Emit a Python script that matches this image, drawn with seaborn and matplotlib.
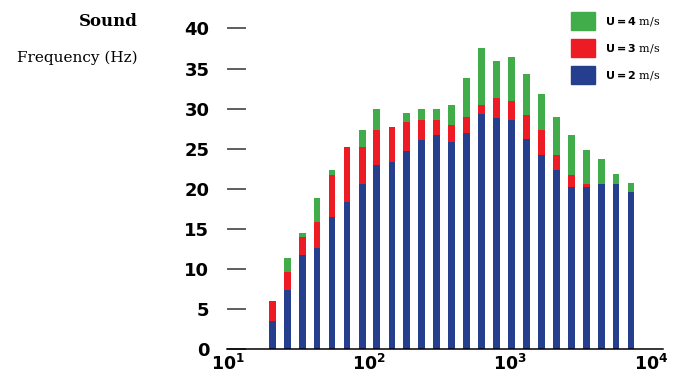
import matplotlib
matplotlib.use("Agg")
import matplotlib.pyplot as plt
import seaborn as sns
from matplotlib.ticker import NullLocator
from matplotlib.patches import Patch

# frequencies (Hz)
freq = [20.7, 26.5, 34, 43, 55, 70, 90, 114, 146, 186, 237, 303, 386,
        492, 628, 802, 1023, 1305, 1665, 2124, 2710, 3457, 4410, 5626, 7178]

# bar heights per wind speed
u2 = [3.6, 7.45, 11.8, 12.7, 16.5, 18.4, 20.6, 23.0, 23.4, 24.7, 26.1, 26.7, 25.9,
      27.0, 29.3, 28.8, 28.6, 26.2, 24.2, 22.4, 20.2, 20.2, 20.6, 20.6, 19.6]
u3 = [6.0, 9.7, 14.0, 15.9, 21.7, 25.2, 25.2, 27.3, 27.7, 28.4, 28.6, 28.6, 28.0,
      28.9, 30.4, 31.3, 31.0, 29.2, 27.3, 24.2, 21.7, 20.6, 20.6, 20.6, 19.6]
u4 = [6.0, 11.4, 14.5, 18.9, 22.4, 25.2, 27.3, 29.9, 27.7, 29.4, 29.9, 29.9, 30.4,
      33.8, 37.6, 35.9, 36.4, 34.3, 31.8, 29.0, 26.7, 24.9, 23.7, 21.9, 20.7]

series = [("4", u4, "#40AD4A"), ("3", u3, "#ED1C24"), ("2", u2, "#253F8E")]
y_ticks = list(range(0, 41, 5))
x_ticks = [10, 100, 1000, 10000]
x_labels = [r"$\mathbf{10^{1}}$", r"$\mathbf{10^{2}}$", r"$\mathbf{10^{3}}$", r"$\mathbf{10^{4}}$"]

sns.set_style("white")
plt.rcParams["mathtext.fontset"] = "dejavusans"
plt.rcParams["text.color"] = "black"

fig = plt.figure(figsize=(6.73, 3.76), dpi=100)
ax = fig.add_axes([0.338, 0.0705, 0.647, 0.854])

# overlapping bars: tallest (U=4) behind, U=2 in front
for name, vals, col in series:
    sns.barplot(x=freq, y=vals, color=col, native_scale=True, log_scale=(True, False),
                width=0.47, saturation=1, orient="x", errorbar=None, linewidth=0, ax=ax)

ax.set_xlim(10, 12060)
ax.set_ylim(0, 40)
ax.set_xticks(x_ticks)
ax.set_xticklabels(x_labels)
ax.xaxis.set_minor_locator(NullLocator())
ax.set_yticks(y_ticks)
ax.set_yticklabels([str(t) for t in y_ticks], fontweight="bold")

ax.tick_params(axis="x", bottom=True, length=0, pad=3, labelsize=12.5, labelcolor="black")
ax.tick_params(axis="y", left=True, direction="in", length=13.7, width=1.1,
               color="#333333", pad=13, labelsize=13, labelcolor="black")

for s in ["left", "top", "right"]:
    ax.spines[s].set_visible(False)
ax.spines["bottom"].set_color("black")
ax.spines["bottom"].set_linewidth(1.1)
ax.grid(False)

fig.text(138 / 673, 1 - 21 / 376, "Sound", ha="right", va="center", color="black",
         fontfamily="DejaVu Serif", fontweight="bold", fontsize=12)
fig.text(138 / 673, 1 - 58 / 376, "Frequency (Hz)", ha="right", va="center", color="black",
         fontfamily="DejaVu Serif", fontsize=11)

handles = [Patch(color=col) for _, _, col in series]
labels = [r"$\mathbf{U = %s}$ m/s" % name for name, _, _ in series]
fig.legend(handles, labels, loc="upper left", bbox_to_anchor=(571 / 673, 1 - 12 / 376),
           frameon=False, borderpad=0, borderaxespad=0, handlelength=2.16,
           handleheight=2.16, labelspacing=0.77, handletextpad=0.9, labelcolor="black",
           prop={"family": "DejaVu Serif", "size": 8})

fig.savefig("out.png", dpi=100)
